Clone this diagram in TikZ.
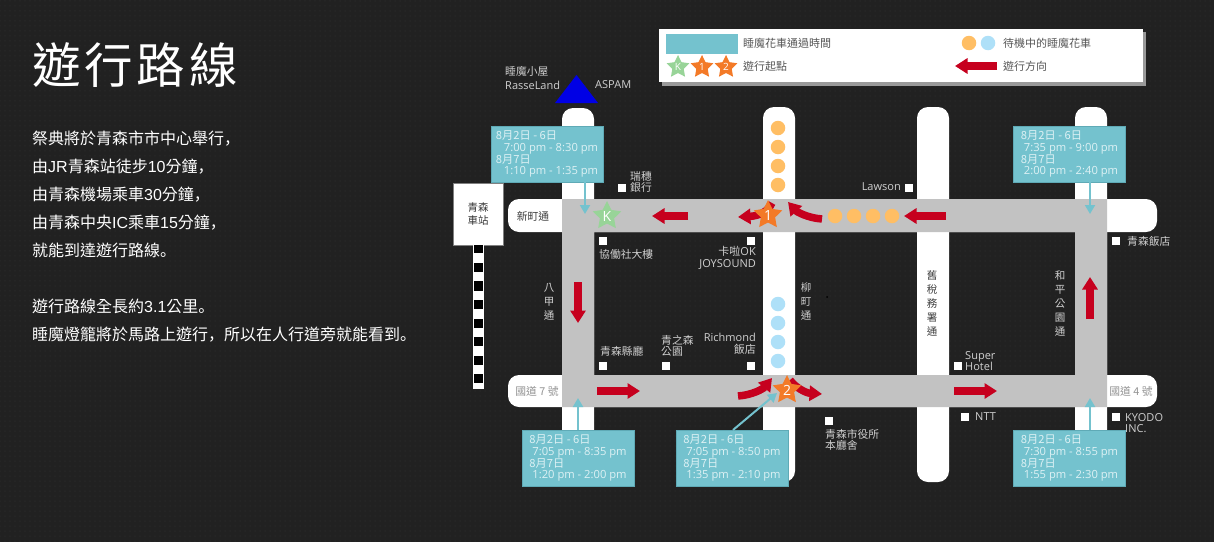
\documentclass[tikz,border=0pt]{standalone}
\usepackage{fontspec}
\setmainfont{Open Sans}
\newfontfamily\cjk{Noto Sans CJK TC}
\newfontfamily\cjp{Noto Sans CJK JP}
\newfontfamily\ltn{Liberation Sans}
\newfontfamily\titlefont[LetterSpace=8]{Noto Sans CJK TC}
\usetikzlibrary{arrows.meta,patterns.meta,shapes.geometric}
\definecolor{bgdark}{HTML}{212121}
\definecolor{bgdot}{HTML}{272727}
\definecolor{roadgray}{HTML}{C2C2C2}
\definecolor{boxteal}{HTML}{74C2CE}
\definecolor{boxedge}{HTML}{5FAAB6}
\definecolor{boxtext}{HTML}{DDF1F4}
\definecolor{arrowred}{HTML}{C6001E}
\definecolor{carorange}{HTML}{FFBE64}
\definecolor{carblue}{HTML}{AEE0F8}
\definecolor{stargreen}{HTML}{98D498}
\definecolor{starorange}{HTML}{F37A28}
\definecolor{labelgray}{HTML}{D0D0D0}
\definecolor{inkgray}{HTML}{555555}
\begin{document}
\begin{tikzpicture}[x=1pt,y=-1pt,
  road/.style={fill=white,rounded corners=11pt},
  car/.style={circle,inner sep=0pt,minimum size=14.5pt},
  orangecar/.style={car,fill=carorange},
  bluecar/.style={car,fill=carblue},
  redarr/.style={draw=arrowred,line width=7.5pt,-{Triangle[width=15pt,length=12.5pt]}},
  tealarr/.style={draw=boxteal,line width=2pt,-{Triangle[width=10pt,length=9pt]}},
  parade/.style={star,star points=5,star point ratio=2,inner sep=0pt,minimum size=30pt,text=white,font=\fontsize{14}{14}\selectfont},
  smallparade/.style={parade,minimum size=24pt,font=\fontsize{10}{10}\selectfont},
  timebox/.style={rectangle,fill=boxteal,draw=boxedge,line width=0.6pt,minimum width=112pt,minimum height=56pt,inner sep=0pt,align=left,text=boxtext,font=\fontsize{11.2}{11.9}\selectfont},
  spot/.style={rectangle,fill=white,inner sep=0pt,minimum size=8pt},
  maplabel/.style={inner sep=0pt,text=labelgray,font=\fontsize{11}{11.6}\selectfont},
  cjklabel/.style={maplabel,font=\cjk\fontsize{10.8}{11.6}\selectfont},
  vlabel/.style={cjklabel,align=center,font=\cjk\fontsize{10.5}{14}\selectfont},
  legendtext/.style={inner sep=0pt,anchor=west,text=inkgray,font=\cjk\fontsize{11}{12}\selectfont}]
  \useasboundingbox (0,0) rectangle (1214,541);
  \fill[bgdark] (-3,-3) rectangle (1217,544);
  \fill[pattern={Dots[distance=5pt,radius=1pt]},pattern color=bgdot] (-3,-3) rectangle (1217,544);

  \node[inner sep=0pt,anchor=west,text=white,font=\titlefont\fontsize{48.5}{48.5}\selectfont] (title) at (32,65) {遊行路線};
  \node[inner sep=0pt,anchor=north west,align=left,text=white,font=\cjk\fontsize{16}{28}\selectfont] (bodytext) at (32,131) {祭典將於青森市市中心舉行{\cjp，}\\由{\ltn JR}青森站徒步{\ltn 10}分鐘{\cjp，}\\由青森機場乘車{\ltn 30}分鐘{\cjp，}\\由青森中央{\ltn IC}乘車{\ltn 15}分鐘{\cjp，}\\就能到達遊行路線{\cjp 。}\\ \mbox{}\\遊行路線全長約{\ltn 3.1}公里{\cjp 。}\\睡魔燈籠將於馬路上遊行{\cjp，}所以在人行道旁就能看到{\cjp 。}};

  \fill[gray!80] (662,32) rectangle (1146,86);
  \fill[white] (659,29) rectangle (1143,82);
  \fill[boxteal] (666,34) rectangle (738,54);
  \node[legendtext] (legendtime) at (743,43) {睡魔花車通過時間};
  \node[legendtext] (legendstart) at (743,66) {遊行起點};
  \node[legendtext] (legendwait) at (1003,43) {待機中的睡魔花車};
  \node[legendtext] (legenddir) at (1003,66) {遊行方向};
  \node[smallparade,fill=stargreen] (legendk) at (678,67) {K};
  \node[smallparade,fill=starorange] (legendone) at (702,67) {1};
  \node[smallparade,fill=starorange] (legendtwo) at (726,67) {2};
  \node[orangecar] (legendorange) at (969,43) {};
  \node[bluecar] (legendblue) at (988,43) {};
  \draw[redarr] (997,66) -- (955,66);

  \fill[road] (562,108) rectangle (594,484);
  \fill[road] (763,107) rectangle (795,482);
  \fill[road] (917,107) rectangle (949,482);
  \fill[road] (1075,107) rectangle (1107,484);
  \fill[road] (508,199) rectangle (1157,232);
  \fill[road] (508,375) rectangle (1157,407);
  \fill[roadgray,even odd rule] (562,199) rectangle (1107,407) (594,232) rectangle (1075,375);

  \fill[blue!90!black] (555,103) -- (576.5,75) -- (598,103) -- cycle;
  \node[cjklabel,anchor=west] (hutname) at (505,71) {睡魔小屋};
  \node[maplabel,anchor=west] (rasse) at (505,85) {RasseLand};
  \node[maplabel,anchor=west] (aspam) at (595,85) {ASPAM};

  \node[rectangle,fill=white,draw=gray,line width=0.6pt,inner sep=0pt,minimum width=50pt,minimum height=62pt,align=center,text=black!80,font=\cjk\fontsize{10.5}{13}\selectfont] (station) at (478,214) {青森\\車站};
  \fill[white] (472.5,245) rectangle (483.5,389);
  \fill[black] (473.5,245) rectangle (482.5,253);
  \fill[black] (473.5,263) rectangle (482.5,272);
  \fill[black] (473.5,281) rectangle (482.5,291);
  \fill[black] (473.5,300) rectangle (482.5,309);
  \fill[black] (473.5,319) rectangle (482.5,328);
  \fill[black] (473.5,337) rectangle (482.5,346);
  \fill[black] (473.5,356) rectangle (482.5,365);
  \fill[black] (473.5,374) rectangle (482.5,383);

  \node[orangecar] (wait1) at (778,128) {};
  \node[orangecar] (wait2) at (778,147) {};
  \node[orangecar] (wait3) at (778,166) {};
  \node[orangecar] (wait4) at (778,185) {};
  \node[orangecar] (wait5) at (835,216) {};
  \node[orangecar] (wait6) at (854,216) {};
  \node[orangecar] (wait7) at (873,216) {};
  \node[orangecar] (wait8) at (892,216) {};
  \node[bluecar] (wait9) at (778,304) {};
  \node[bluecar] (wait10) at (778,323) {};
  \node[bluecar] (wait11) at (778,342) {};
  \node[bluecar] (wait12) at (778,361) {};

  \draw[redarr] (688,216) -- (652,216);
  \draw[redarr] (946,216) -- (904,216);
  \draw[redarr] (578,282) -- (578,323);
  \draw[redarr] (597,391) -- (640,391);
  \draw[redarr] (954,391) -- (997,391);
  \draw[redarr] (1090,319) -- (1090,277);
  \draw[redarr] (772,203) .. controls (768,212) and (758,216) .. (738,217);
  \draw[redarr] (822,219) .. controls (808,218) and (797,212) .. (788,202);
  \draw[redarr] (738,396) .. controls (752,395) and (763,389) .. (772,378);
  \draw[redarr] (790,380) .. controls (796,388) and (806,393) .. (822,394);

  \node[parade,fill=stargreen] (startk) at (607,216) {K};
  \node[parade,fill=starorange] (startone) at (768,215) {1};
  \node[parade,fill=starorange] (starttwo) at (787,390) {2};

  \node[timebox] (timea) at (547,154) {{\cjk 8月2日 - 6日}\\\hspace{8pt}7:00 pm - 8:30 pm\\{\cjk 8月7日}\\\hspace{8pt}1:10 pm - 1:35 pm};
  \node[timebox] (timeb) at (1069.5,154) {{\cjk 8月2日 - 6日}\\\hspace{3pt}7:35 pm - 9:00 pm\\{\cjk 8月7日}\\\hspace{3pt}2:00 pm - 2:40 pm};
  \node[timebox] (timec) at (578,458) {{\cjk 8月2日 - 6日}\\\hspace{3pt}7:05 pm - 8:35 pm\\{\cjk 8月7日}\\\hspace{3pt}1:20 pm - 2:00 pm};
  \node[timebox] (timed) at (732,458) {{\cjk 8月2日 - 6日}\\\hspace{3pt}7:05 pm - 8:50 pm\\{\cjk 8月7日}\\\hspace{3pt}1:35 pm - 2:10 pm};
  \node[timebox] (timee) at (1069.5,458) {{\cjk 8月2日 - 6日}\\\hspace{3pt}7:30 pm - 8:55 pm\\{\cjk 8月7日}\\\hspace{3pt}1:55 pm - 2:30 pm};

  \coordinate (tipa) at (585,214);
  \coordinate (tipb) at (1090,214);
  \coordinate (tipc) at (578,398);
  \coordinate (tipd) at (777,393);
  \coordinate (tipe) at (1090,398);
  \coordinate (tail) at (733,430);
  \draw[tealarr] (timea.south -| tipa) -- (tipa);
  \draw[tealarr] (timeb.south -| tipb) -- (tipb);
  \draw[tealarr] (timec.north -| tipc) -- (tipc);
  \draw[tealarr] (tail) -- (tipd);
  \draw[tealarr] (timee.north -| tipe) -- (tipe);

  \node[spot] (bank) at (622,188) {};
  \node[cjklabel,anchor=west,align=left] (banktext) at (630,182) {瑞穗\\銀行};
  \node[spot] (coop) at (603,241) {};
  \node[cjklabel,anchor=west] (cooptext) at (599,254) {協働社大樓};
  \node[spot] (karaoke) at (751,241) {};
  \node[maplabel,anchor=east,align=right] (karaoketext) at (756,258) {{\cjk 卡啦}OK\\JOYSOUND};
  \node[spot] (lawson) at (909,188) {};
  \node[maplabel,anchor=east] (lawsontext) at (901,187) {Lawson};
  \node[spot] (hotel) at (1116,241) {};
  \node[cjklabel,anchor=west] (hoteltext) at (1127,241) {青森飯店};
  \node[spot] (pref) at (603,366) {};
  \node[cjklabel,anchor=west] (preftext) at (600,351) {青森縣廳};
  \node[spot] (park) at (666,366) {};
  \node[cjklabel,anchor=west,align=left] (parktext) at (661,346) {青之森\\公園};
  \node[spot] (richmond) at (751,366) {};
  \node[maplabel,anchor=east,align=right] (richmondtext) at (756,344) {Richmond\\{\cjk 飯店}};
  \node[spot] (superhotel) at (958,366) {};
  \node[maplabel,anchor=west,align=left] (superhoteltext) at (965,361) {Super\\Hotel};
  \node[spot] (ntt) at (965,417) {};
  \node[maplabel,anchor=west] (ntttext) at (975,417) {NTT};
  \node[spot] (kyodo) at (1116,417) {};
  \node[maplabel,anchor=west,align=left] (kyodotext) at (1125,423) {KYODO\\INC.};
  \node[spot,minimum size=7.5pt] (cityhall) at (829,421) {};
  \node[cjklabel,anchor=west,align=left] (cityhalltext) at (825,440) {青森市役所\\本廳舍};

  \node[cjklabel,text=black!75] (shinmachi) at (533,216) {新町通};
  \node[cjklabel,text=gray!85] (route7) at (537,391) {國道 7 號};
  \node[cjklabel,text=gray!85] (route4) at (1131,391) {國道 4 號};
  \node[vlabel] (hakko) at (549,302) {八\\甲\\通};
  \node[vlabel] (yanagi) at (806,302) {柳\\町\\通};
  \node[vlabel,text=black!75] (zeimu) at (932,304) {舊\\稅\\務\\署\\通};
  \node[vlabel] (heiwa) at (1060,304) {和\\平\\公\\園\\通};
  \node[circle,fill=black,inner sep=0pt,minimum size=2pt] (blackdot) at (827,297) {};
\end{tikzpicture}
\end{document}
